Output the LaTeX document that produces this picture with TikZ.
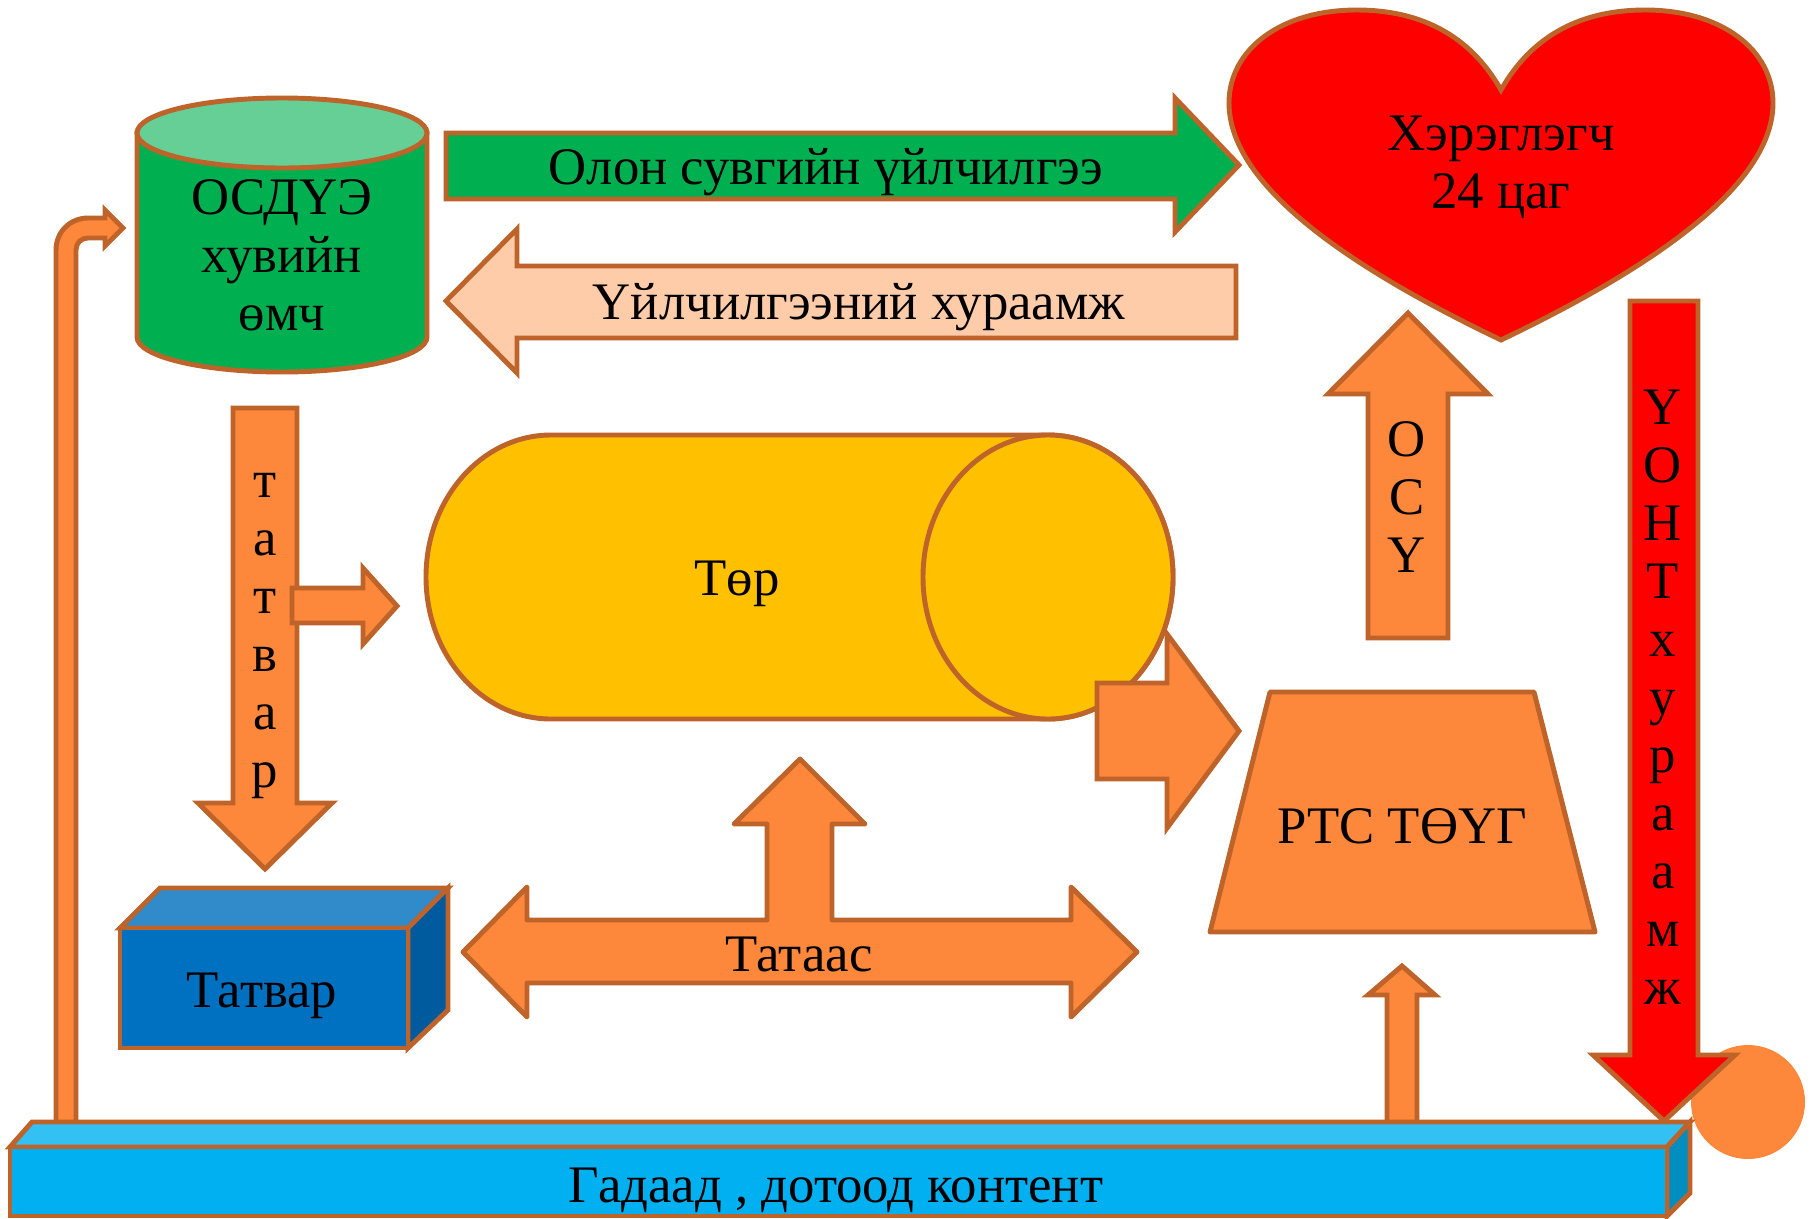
\documentclass[tikz,border=0pt]{standalone}
\usepackage{fontspec}
\setmainfont{Liberation Serif}

\definecolor{rim}{HTML}{BE6329}
\definecolor{orng}{HTML}{FD873A}
\definecolor{grn}{HTML}{00B050}
\definecolor{grnlt}{HTML}{66CF96}
\definecolor{peach}{HTML}{FFCCAA}
\definecolor{yel}{HTML}{FFC000}
\definecolor{hot}{HTML}{FF0000}
\definecolor{blufront}{HTML}{0070C0}
\definecolor{blutop}{HTML}{318ACA}
\definecolor{bluside}{HTML}{005A9E}
\definecolor{cyfront}{HTML}{00B0F0}
\definecolor{cytop}{HTML}{33C0F3}
\definecolor{cyside}{HTML}{008DC0}

\tikzset{
  shp/.style={draw=rim, line width=1.4pt},
  lbl/.style={inner sep=0pt, font=\fontsize{15}{16.5}\selectfont},
  stack/.style={lbl, align=center},
}

\begin{document}
\begin{tikzpicture}[x=0.01cm, y=-0.01cm]
        \useasboundingbox (0,0) rectangle (1815,1218);

        % orange dot at the bottom right
        \fill[orng] (1748,1102) circle (57);

        % bent arrow on the left
        \filldraw[shp, fill=orng] (56,1130) -- (56,250) .. controls (56,232) and (70,218) .. (88,218)
            -- (105,218) -- (105,210) -- (123,228) -- (105,246) -- (105,238) -- (88,238)
            .. controls (81,238) and (76,243) .. (76,250) -- (76,1130) -- cycle;

        % small arrow up to the trapezoid
        \filldraw[shp, fill=orng] (1387,1130) -- (1387,995) -- (1368,995) -- (1402,966)
            -- (1435,995) -- (1417,995) -- (1417,1130) -- cycle;

        % bottom bar
        \filldraw[shp, fill=cytop] (10,1147) -- (32,1122) -- (1690,1122) -- (1667,1147) -- cycle;
        \filldraw[shp, fill=cyside] (1667,1147) -- (1690,1122) -- (1690,1193) -- (1667,1216) -- cycle;
        \filldraw[shp, fill=cyfront] (10,1147) rectangle (1667,1216);
        \node[lbl, anchor=base](content) at (836,1202) {Гадаад , дотоод контент};

        % red arrow on the right
        \filldraw[shp, fill=hot] (1630,301) -- (1698,301) -- (1698,1055) -- (1735,1055)
            -- (1664,1121) -- (1593,1055) -- (1630,1055) -- cycle;
        \node[stack](fee) at (1663,697) {Ү\\О\\Н\\Т\\х\\у\\р\\а\\а\\м\\ж};

        % green cylinder
        \filldraw[shp, fill=grn] (137,133) -- (137,337) arc[start angle=180, end angle=0, x radius=145, y radius=35]
            -- (427,133) -- cycle;
        \filldraw[shp, fill=grnlt] (282,133) ellipse [x radius=145, y radius=35];
        \node[stack](owner) at (282,255) {ОСДҮЭ\\хувийн\\өмч};

        % top arrows
        \filldraw[shp, fill=grn] (446,133) -- (1175,133) -- (1175,98) -- (1239,165)
            -- (1175,232) -- (1175,199) -- (446,199) -- cycle;
        \node[lbl, anchor=base](multi) at (826,184) {Олон сувгийн үйлчилгээ};
        \filldraw[shp, fill=peach] (1236,266) -- (517,266) -- (517,229) -- (446,301)
            -- (517,373) -- (517,338) -- (1236,338) -- cycle;
        \node[lbl, anchor=base](charge) at (859,319) {Үйлчилгээний хураамж};

        % heart
        \filldraw[shp, fill=hot] (1501,90) .. controls (1470,35) and (1420,10) .. (1357,10)
            .. controls (1280,10) and (1229,50) .. (1229,103)
            .. controls (1229,195) and (1380,282) .. (1501,340)
            .. controls (1622,282) and (1773,195) .. (1773,103)
            .. controls (1773,50) and (1722,10) .. (1645,10)
            .. controls (1582,10) and (1532,35) .. (1501,90) -- cycle;
        \node[stack](user) at (1501,167) {Хэрэглэгч\\24 цаг};

        % arrow up to the heart
        \filldraw[shp, fill=orng] (1368,638) -- (1368,394) -- (1328,394) -- (1408,313)
            -- (1488,394) -- (1448,394) -- (1448,638) -- cycle;
        \node[stack](osu) at (1407,497) {О\\С\\Ү};

        % tax arrow and the small arrow off it
        \filldraw[shp, fill=orng] (233,408) -- (297,408) -- (297,803) -- (332,803)
            -- (265,869) -- (198,803) -- (233,803) -- cycle;
        \node[stack](taxv) at (265,636) {т\\а\\т\\в\\а\\р};
        \filldraw[shp, fill=orng] (292,588) -- (363,588) -- (363,568) -- (397,606)
            -- (363,644) -- (363,623) -- (292,623) -- cycle;

        % yellow cylinder
        \filldraw[shp, fill=yel] (1048,435) -- (551,435) arc[start angle=270, end angle=90, x radius=125, y radius=142]
            -- (1048,719) arc[start angle=90, end angle=-90, x radius=125, y radius=142] -- cycle;
        \filldraw[shp, fill=yel] (1048,577) ellipse [x radius=125, y radius=142];
        \node[lbl, anchor=base](tor) at (737,595) {Төр};

        % arrow into the trapezoid
        \filldraw[shp, fill=orng] (1097,683) -- (1167,683) -- (1167,634) -- (1239,731)
            -- (1167,828) -- (1167,779) -- (1097,779) -- cycle;

        % trapezoid
        \filldraw[shp, fill=orng, line join=round] (1270,692) -- (1534,692) -- (1595,932) -- (1210,932) -- cycle;
        \node[lbl, anchor=base](rts) at (1402,843) {РТС ТӨҮГ};

        % tax box
        \filldraw[shp, fill=blutop] (120,928) -- (160,888) -- (448,888) -- (408,928) -- cycle;
        \filldraw[shp, fill=bluside] (408,928) -- (448,888) -- (448,1010) -- (408,1048) -- cycle;
        \filldraw[shp, fill=blufront] (120,928) rectangle (408,1048);
        \node[lbl, anchor=base](tax) at (262,1007) {Татвар};

        % subsidy arrow
        \filldraw[shp, fill=orng, line join=round] (463,952) -- (527,887) -- (527,920) -- (767,920)
            -- (767,824) -- (734,824) -- (800,759) -- (865,824) -- (832,824) -- (832,920)
            -- (1071,920) -- (1071,887) -- (1137,952) -- (1071,1017) -- (1071,983)
            -- (527,983) -- (527,1017) -- cycle;
        \node[lbl, anchor=base](sub) at (799,971) {Татаас};
\end{tikzpicture}
\end{document}
